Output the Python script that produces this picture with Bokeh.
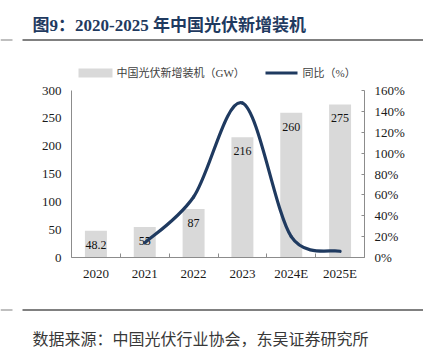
import math
from bokeh.plotting import figure
from bokeh.models import Range1d, LinearAxis, FixedTicker, ColumnDataSource
from bokeh.core.properties import value
from bokeh.embed import file_html
from bokeh.resources import INLINE

# ---- data ----
years = ["2020", "2021", "2022", "2023", "2024E", "2025E"]
capacity_gw = [48.2, 55, 87, 216, 260, 275]
yoy_pct = [None, 14, 58, 148, 20, 6]
left_ticks = [0, 50, 100, 150, 200, 250, 300]
right_ticks = [0, 20, 40, 60, 80, 100, 120, 140, 160]
title_text = "图9：2020-2025 年中国光伏新增装机"
source_text = "数据来源：中国光伏行业协会，东吴证券研究所"
bar_name = "中国光伏新增装机（GW）"
line_name = "同比（%）"

# ---- style / layout ----
W = 423
HEAD_H, MAIN_H, FOOT_H = 80, 220, 50
FL, FR = 71, 364
FT, FB = 90 - HEAD_H, 257 - HEAD_H          # frame edges inside main figure
fw, fh = FR - FL, FB - FT
SERIF = "Liberation Serif, 'Noto Sans CJK SC'"
NAVY = "#1f3a60"
BAR = "#d9d9d9"
AX = "#8c8c8c"
RULE = "#808080"


def blank(h):
    f = figure(width=W, height=h, output_backend="svg", toolbar_location=None,
               x_range=Range1d(0, W), y_range=Range1d(h, 0),
               x_axis_type=None, y_axis_type=None,
               min_border=0, min_border_left=0, min_border_right=0,
               min_border_top=0, min_border_bottom=0,
               outline_line_color=None, background_fill_color="white",
               border_fill_color="white")
    f.xgrid.visible = False
    f.ygrid.visible = False
    return f


def rule(f, y):
    f.quad(left=[22], right=[W], top=[y - 1], bottom=[y + 1], fill_color=RULE, line_color=None)
    f.quad(left=[0], right=[12], top=[y - 0.5], bottom=[y + 0.5], fill_color=RULE, line_color=None)


# ---- header: title, rule, legend ----
head = blank(HEAD_H)
head.text(x=[32], y=[24.5], text=[title_text], text_font=value(SERIF), text_font_size="17px",
          text_font_style="bold", text_color=NAVY, text_baseline="middle")
rule(head, 39.5)
head.quad(left=[78], right=[112], top=[68], bottom=[77], fill_color=BAR, line_color=None)
head.text(x=[116], y=[72.5], text=[bar_name], text_font=value(SERIF), text_font_size="11px",
          text_color="#404040", text_baseline="middle")
head.segment(x0=[265], y0=[72.5], x1=[297], y1=[72.5], line_color=NAVY, line_width=3)
head.text(x=[302], y=[72.5], text=[line_name], text_font=value(SERIF), text_font_size="11px",
          text_color="#404040", text_baseline="middle")

# ---- main chart ----
x = list(range(len(years)))
p = figure(width=W, height=MAIN_H, output_backend="svg", toolbar_location=None,
           x_range=Range1d(-0.5, len(years) - 0.5), y_range=Range1d(0, 300),
           min_border_left=FL, min_border_right=W - FR,
           min_border_top=FT, min_border_bottom=MAIN_H - FB,
           background_fill_color="white", border_fill_color="white",
           outline_line_color=None)
p.xgrid.visible = False
p.ygrid.visible = False
p.extra_y_ranges = {"pct": Range1d(0, 160)}

xa = p.xaxis[0]
xa.ticker = FixedTicker(ticks=x, minor_ticks=[i - 0.5 for i in range(len(years) + 1)])
xa.major_label_overrides = {i: y for i, y in enumerate(years)}
xa.major_tick_in = 0
xa.major_tick_out = 0
xa.minor_tick_in = 4
xa.minor_tick_out = 0
xa.axis_line_color = AX
xa.minor_tick_line_color = AX
xa.major_label_standoff = 8
xa.major_label_text_font = SERIF
xa.major_label_text_font_size = "13px"
xa.major_label_text_color = "#1a1a1a"

ya = p.yaxis[0]
ya.ticker = FixedTicker(ticks=left_ticks)
ya.major_tick_in = 0
ya.major_tick_out = 0
ya.minor_tick_line_color = None
ya.axis_line_color = AX
ya.major_label_standoff = 10
ya.major_label_text_font = SERIF
ya.major_label_text_font_size = "13px"
ya.major_label_text_color = "#1a1a1a"

ra = LinearAxis(y_range_name="pct", ticker=FixedTicker(ticks=right_ticks))
ra.major_label_overrides = {t: f"{t}%" for t in right_ticks}
ra.major_tick_in = 3
ra.major_tick_out = 0
ra.major_tick_line_color = AX
ra.minor_tick_line_color = None
ra.axis_line_color = AX
ra.major_label_standoff = 10
ra.major_label_text_font = SERIF
ra.major_label_text_font_size = "13px"
ra.major_label_text_color = "#1a1a1a"
p.add_layout(ra, "right")

bsrc = ColumnDataSource(dict(x=x, top=capacity_gw, lab=[f"{v:g}" for v in capacity_gw]))
p.vbar(x="x", top="top", width=0.45, source=bsrc, fill_color=BAR, line_color=None)
p.text(x="x", y="top", text="lab", source=bsrc, text_align="center",
       text_baseline="middle", y_offset=14, text_font=value("Liberation Serif"),
       text_font_size="12px", text_color="#111111")

# smoothed YoY line: Excel-style bezier segments through the data points
pts = [(i, v) for i, v in enumerate(yoy_pct) if v is not None]
kx, ky = fw / len(years), fh / 160.0


def dist(a, b):
    return math.hypot((b[0] - a[0]) * kx, (b[1] - a[1]) * ky)


def arm(a, b, limit):
    # control arm = (b - a) / 6, clamped to limit (screen px)
    vx, vy = (b[0] - a[0]) / 6, (b[1] - a[1]) / 6
    ln = math.hypot(vx * kx, vy * ky)
    if ln > limit and ln > 0:
        s = limit / ln
        vx, vy = vx * s, vy * s
    return vx, vy


n = len(pts)
seg = dict(x0=[], y0=[], x1=[], y1=[], cx0=[], cy0=[], cx1=[], cy1=[])
for i in range(n - 1):
    p0 = pts[i - 1] if i > 0 else pts[i]
    p1, p2 = pts[i], pts[i + 1]
    p3 = pts[i + 2] if i + 2 < n else pts[i + 1]
    half = dist(p1, p2) / 2
    a1 = arm(p0, p2, half)
    a2 = arm(p1, p3, half)
    seg["x0"].append(p1[0]); seg["y0"].append(p1[1])
    seg["x1"].append(p2[0]); seg["y1"].append(p2[1])
    seg["cx0"].append(p1[0] + a1[0]); seg["cy0"].append(p1[1] + a1[1])
    seg["cx1"].append(p2[0] - a2[0]); seg["cy1"].append(p2[1] - a2[1])
p.bezier(source=ColumnDataSource(seg), x0="x0", y0="y0", x1="x1", y1="y1",
         cx0="cx0", cy0="cy0", cx1="cx1", cy1="cy1",
         line_color=NAVY, line_width=3.2, line_cap="round", y_range_name="pct")

# ---- footer: rule and source ----
foot = blank(FOOT_H)
rule(foot, 9.5)
foot.text(x=[32], y=[37.5], text=[source_text], text_font=value("Noto Sans CJK SC"),
          text_font_size="16px", text_color="#383838", text_baseline="middle")

# three independent roots, stacked (no frame alignment between them)
open("out.html", "w").write(file_html([head, p, foot], INLINE))
